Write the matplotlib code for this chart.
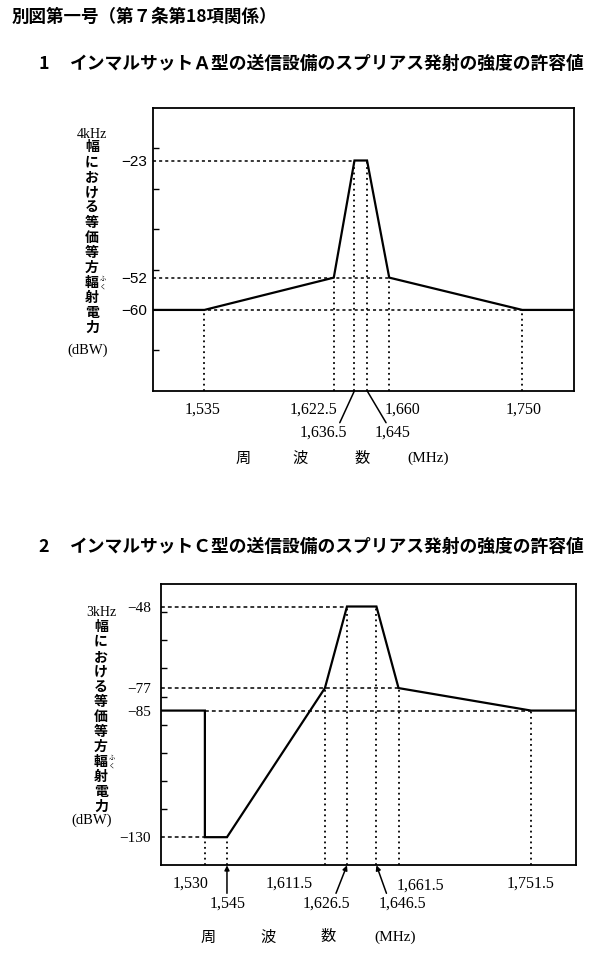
import matplotlib.pyplot as plt

plt.rcParams['font.family'] = ['Noto Sans CJK JP', 'DejaVu Sans']

W, H = 609, 961

# ---- chart 1 : Inmarsat-A ----
a_freq = [1500, 1535, 1622.5, 1636.5, 1645, 1660, 1750, 1785]
a_level = [-60, -60, -52, -23, -23, -52, -60, -60]
a_yticks = [-23, -52, -60]
a_yticklabels = ["−23", "−52", "−60"]
a_hguide_level = [-23, -52, -60]
a_hguide_from = [1500, 1500, 1500]
a_hguide_to = [1636.5, 1660, 1750]
a_vguide_freq = [1535, 1622.5, 1636.5, 1645, 1660, 1750]
a_vguide_level = [-60, -52, -23, -23, -52, -60]
a_xlabels = ["1,535", "1,622.5", "1,636.5", "1,645", "1,660", "1,750"]

# ---- chart 2 : Inmarsat-C ----
c_freq = [1500, 1530, 1530, 1545, 1611.5, 1626.5, 1646.5, 1661.5, 1751.5, 1782]
c_level = [-85, -85, -130, -130, -77, -48, -48, -77, -85, -85]
c_yticks = [-48, -77, -85, -130]
c_yticklabels = ["−48", "−77", "−85", "−130"]
c_hguide_level = [-48, -77, -85, -130]
c_hguide_from = [1500, 1500, 1530, 1500]
c_hguide_to = [1626.5, 1661.5, 1751.5, 1530]
c_vguide_freq = [1530, 1545, 1611.5, 1626.5, 1646.5, 1661.5, 1751.5]
c_vguide_level = [-130, -130, -77, -48, -48, -77, -85]
c_xlabels = ["1,530", "1,545", "1,611.5", "1,626.5", "1,646.5", "1,661.5", "1,751.5"]

ylabel_chars = list("幅における等価等方輻射電力")

PT = 0.72  # points per pixel at dpi 100


def fx(x):
    return x / W


def fy(y):
    return 1 - y / H


def make_axes(fig, left, right, top, bottom):
    return fig.add_axes([fx(left), fy(bottom), fx(right) - fx(left), fy(top) - fy(bottom)])


def draw_mask(ax, freq, level, xlim, ylim, hl, hf, ht, vf, vl, hstyle):
    ax.set_xlim(*xlim)
    ax.set_ylim(*ylim)
    for lv, x0, x1 in zip(hl, hf, ht):
        ax.plot([x0, x1], [lv, lv], color="black", lw=1.1, linestyle=hstyle)
    for f, lv in zip(vf, vl):
        ax.plot([f, f], [ylim[0], lv], color="black", lw=1.3, linestyle=(0, (1, 2)))
    ax.plot(freq, level, color="black", lw=1.6, solid_joinstyle="miter")
    for s in ax.spines.values():
        s.set_linewidth(1.3)
    ax.set_xticks([])


def xlabel(ax, f, text, dx, dy, ha, arrow=None, family="Liberation Serif"):
    ax.annotate(text, xy=(f, 0), xycoords=("data", "axes fraction"),
                xytext=(dx * PT, dy * PT), textcoords="offset points",
                ha=ha, va="center", fontsize=11.5, family=family)
    if arrow is not None:
        ax_, ay_, style = arrow
        ax.annotate("", xy=(f, 0), xycoords=("data", "axes fraction"),
                    xytext=(ax_ * PT, ay_ * PT), textcoords="offset points",
                    arrowprops=dict(arrowstyle=style, color="black", lw=1.1,
                                    shrinkA=0, shrinkB=0, mutation_scale=7))


def ylabel_column(fig, khz, x, y_khz, y0, step, x_dbw, y_dbw, family):
    fig.text(fx(x), fy(y_khz), khz, ha="center", va="center", fontsize=10, family=family)
    for i, ch in enumerate(ylabel_chars):
        fig.text(fx(x), fy(y0 + i * step), ch, ha="center", va="center",
                 fontsize=10, fontweight="bold")
        if ch == "輻":
            # small ruby reading next to the kanji
            fig.text(fx(x + 11), fy(y0 + i * step), "ふ\nく", ha="center", va="center",
                     fontsize=4.5, linespacing=0.9)
    fig.text(fx(x_dbw), fy(y_dbw), "(dBW)", ha="center", va="center", fontsize=10.5, family=family)


def freq_caption(fig, y, xs, family):
    for ch, x in zip(["周", "波", "数"], xs[:3]):
        fig.text(fx(x), fy(y), ch, ha="center", va="center", fontsize=11)
    fig.text(fx(xs[3]), fy(y), "(MHz)", ha="center", va="center", fontsize=11, family=family)


fig = plt.figure(figsize=(W / 100, H / 100), dpi=100)

fig.text(fx(12), fy(17), "別図第一号（第７条第18項関係）", ha="left", va="center",
         fontsize=12.6, fontweight="bold")
fig.text(fx(38), fy(64), "1", ha="left", va="center", fontsize=12.8, fontweight="bold")
fig.text(fx(70), fy(64), "インマルサットＡ型の送信設備のスプリアス発射の強度の許容値",
         ha="left", va="center", fontsize=12.8, fontweight="bold")
fig.text(fx(38), fy(547), "2", ha="left", va="center", fontsize=12.8, fontweight="bold")
fig.text(fx(70), fy(547), "インマルサットＣ型の送信設備のスプリアス発射の強度の許容値",
         ha="left", va="center", fontsize=12.8, fontweight="bold")

# chart 1
ax1 = make_axes(fig, 152.7, 574, 108, 390.7)
draw_mask(ax1, a_freq, a_level, (1500, 1785), (-80, -10),
          a_hguide_level, a_hguide_from, a_hguide_to, a_vguide_freq, a_vguide_level, (0, (2, 2)))
ax1.set_yticks(a_yticks, labels=a_yticklabels)
ax1.set_yticks(range(-70, -10, 10), minor=True)
ax1.tick_params(axis="y", which="major", length=0, pad=5.7 * PT, labelsize=11)
ax1.tick_params(axis="y", which="minor", direction="in", length=4, width=1)
for lab in ax1.get_yticklabels():
    lab.set_family("Liberation Sans")

xlabel(ax1, 1535, a_xlabels[0], -2, -19, "center")
xlabel(ax1, 1622.5, a_xlabels[1], 4, -19, "right")
xlabel(ax1, 1636.5, a_xlabels[2], -31, -42, "center", arrow=(-14.7, -32, "-"))
xlabel(ax1, 1645, a_xlabels[3], 26, -42, "center", arrow=(19, -32, "-"))
xlabel(ax1, 1660, a_xlabels[4], -5, -19, "left")
xlabel(ax1, 1750, a_xlabels[5], 1, -19, "center")

ylabel_column(fig, "4kHz", 92, 135, 147, 15.1, 88, 350, "Liberation Serif")
freq_caption(fig, 458, [243, 300, 362, 428], "Liberation Serif")

# chart 2
ax2 = make_axes(fig, 160.7, 576, 584, 865.3)
draw_mask(ax2, c_freq, c_level, (1500, 1782), (-140, -40),
          c_hguide_level, c_hguide_from, c_hguide_to, c_vguide_freq, c_vguide_level, (0, (2.5, 2)))
ax2.set_yticks(c_yticks, labels=c_yticklabels)
ax2.set_yticks(range(-130, -40, 10), minor=True)
ax2.tick_params(axis="y", which="major", length=0, pad=10 * PT, labelsize=11)
ax2.tick_params(axis="y", which="minor", direction="in", length=4, width=1)
for lab in ax2.get_yticklabels():
    lab.set_family("Liberation Serif")

xlabel(ax2, 1530, c_xlabels[0], -14, -18, "center")
xlabel(ax2, 1545, c_xlabels[1], 1, -38, "center", arrow=(0, -28, "-|>"))
xlabel(ax2, 1611.5, c_xlabels[2], -12, -18, "right")
xlabel(ax2, 1626.5, c_xlabels[3], -21, -38, "center", arrow=(-11, -28, "-|>"))
xlabel(ax2, 1646.5, c_xlabels[4], 26, -38, "center", arrow=(10, -28, "-|>"))
xlabel(ax2, 1661.5, c_xlabels[5], -2, -20, "left")
xlabel(ax2, 1751.5, c_xlabels[6], -1, -18, "center")

ylabel_column(fig, "3kHz", 101, 613, 627, 15, 92, 820, "Liberation Serif")
freq_caption(fig, 937, [208, 268, 328, 395], "Liberation Serif")

fig.savefig("out.png", dpi=100)
